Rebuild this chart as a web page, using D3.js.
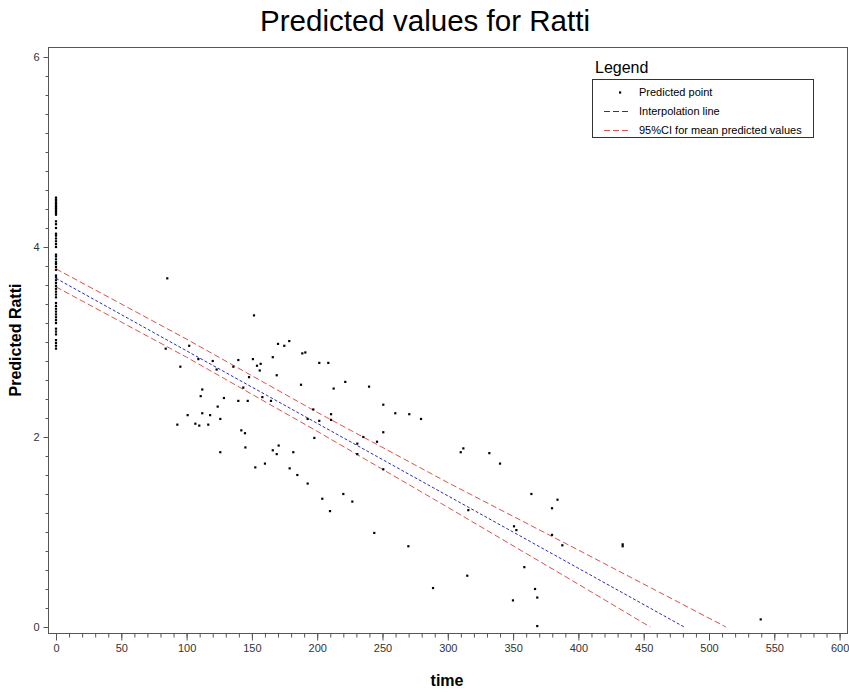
<!DOCTYPE html>
<html>
<head>
<meta charset="utf-8">
<script src="https://cdn.jsdelivr.net/npm/d3@7"></script>
<style>
  body { margin: 0; background: #fff; }
  text { font-family: "Liberation Sans", Arial, sans-serif; }
</style>
</head>
<body>
<script>
// Predicted values for Ratti - scatter with fitted line and 95% CI

// predicted points (time > 0)
var pointTime = [85.2, 151.6, 170, 102, 84, 109, 120, 139.6, 150.8, 156.7, 153.9, 135.8, 166, 95.2, 123, 156, 169,
  147.8, 143.4, 112, 110.8, 128.6, 139.6, 146.8, 158, 164.6, 123.8, 100.8, 112, 118, 125.8, 92.9, 106.7, 109.7,
  116.6, 141.9, 144.7, 170.5, 145, 125.8, 166, 169, 178.6, 174.8, 188.6, 190.9, 201.6, 208.5, 187.6, 221.5, 239.7,
  212.6, 197, 250.6, 259.8, 270.5, 279.5, 210.6, 192.7, 201.6, 210.6, 181.7, 197.8, 235.3, 230.7, 245.8, 250.6,
  230.7, 250.6, 152.6, 160, 178.9, 184.8, 192.7, 203.9, 220, 226.9, 209.8, 243.7, 269.8, 288.7, 314.9, 315.7,
  350.7, 352.5, 379.8, 379.8, 384, 358.6, 349.9, 366.8, 368.5, 368.5, 309.9, 311.9, 331.8, 340, 364, 387.7,
  433.9, 433.9, 539.6];
var pointRatti = [3.67, 3.28, 2.98, 2.96, 2.93, 2.82, 2.80, 2.81, 2.82, 2.77, 2.75, 2.74, 2.84, 2.74, 2.71, 2.70, 2.65,
  2.63, 2.52, 2.50, 2.43, 2.41, 2.38, 2.38, 2.42, 2.38, 2.32, 2.23, 2.25, 2.23, 2.19, 2.13, 2.14, 2.12,
  2.13, 2.07, 2.04, 1.91, 1.89, 1.84, 1.86, 1.82, 3.01, 2.96, 2.88, 2.89, 2.78, 2.78, 2.55, 2.58, 2.53,
  2.51, 2.29, 2.34, 2.25, 2.24, 2.19, 2.24, 2.19, 2.17, 2.18, 1.84, 1.99, 2.00, 1.93, 1.95, 2.05,
  1.82, 1.66, 1.68, 1.72, 1.67, 1.60, 1.51, 1.35, 1.40, 1.32, 1.22, 0.99, 0.85, 0.41, 0.54, 1.23,
  1.06, 1.02, 1.25, 0.97, 1.34, 0.63, 0.28, 0.40, 0.31, 0.01, 1.84, 1.88, 1.83, 1.72, 1.40, 0.86,
  0.87, 0.85, 0.08];

// predicted points at time = 0
var zeroTimeRatti = [4.52, 4.50, 4.49, 4.47, 4.46, 4.44, 4.43, 4.41, 4.40, 4.38, 4.36, 4.34, 4.27, 4.24,
  4.20, 4.14, 4.12, 4.09, 4.06, 4.03, 4.00, 3.92, 3.90, 3.87, 3.84, 3.82, 3.79, 3.76,
  3.70, 3.68, 3.65, 3.62, 3.59, 3.56, 3.53, 3.50, 3.47, 3.41, 3.38, 3.35, 3.32, 3.29, 3.26, 3.23, 3.20,
  3.14, 3.11, 3.08, 3.02, 2.99, 2.96, 2.93];

// interpolation line and CI bounds
var fitTime = [0, 481];
var fitRatti = [3.67, 0];
var upperTime = [0, 100, 200, 300, 400, 513];
var upperRatti = [3.77, 3.03, 2.26, 1.52, 0.81, 0];
var lowerTime = [0, 100, 200, 300, 400, 455];
var lowerRatti = [3.58, 2.84, 2.06, 1.26, 0.45, 0];

// ticks
var xTicks = [0, 50, 100, 150, 200, 250, 300, 350, 400, 450, 500, 550, 600];
var yTicks = [0, 2, 4, 6];

var width = 849, height = 692;
var frame = {left: 48, right: 847, top: 47, bottom: 633};
var red = "#d9534f", blue = "#2a2ac0";

var svg = d3.select("body").append("svg")
  .attr("width", width)
  .attr("height", height);

var x = d3.scaleLinear().domain([0, 600]).range([56, 839.6]);
var y = d3.scaleLinear().domain([0, 6]).range([627, 57]);

// title
svg.append("text")
  .attr("x", 425)
  .attr("y", 31)
  .attr("text-anchor", "middle")
  .attr("textLength", 330)
  .attr("lengthAdjust", "spacingAndGlyphs")
  .style("font-size", "30px")
  .text("Predicted values for Ratti");

// frame
svg.append("rect")
  .attr("x", frame.left + 0.5)
  .attr("y", frame.top + 0.5)
  .attr("width", frame.right - frame.left)
  .attr("height", frame.bottom - frame.top)
  .attr("fill", "none")
  .attr("stroke", "#555");

// x axis, minor then major
var xMinor = d3.range(0, 601, 10);
svg.append("g")
  .attr("class", "x minor")
  .attr("transform", "translate(0," + (frame.bottom + 0.5) + ")")
  .call(d3.axisBottom(x).tickValues(xMinor).tickSize(4).tickFormat(""));
svg.append("g")
  .attr("class", "x axis")
  .attr("transform", "translate(0," + (frame.bottom + 0.5) + ")")
  .call(d3.axisBottom(x).tickValues(xTicks).tickSize(7).tickPadding(4).tickFormat(d3.format("d")));

// y axis
var yMinor = d3.range(0, 30.5, 1).map(function(d) { return d / 5; });
svg.append("g")
  .attr("class", "y minor")
  .attr("transform", "translate(" + (frame.left + 0.5) + ",0)")
  .call(d3.axisLeft(y).tickValues(yMinor).tickSize(3).tickFormat(""));
svg.append("g")
  .attr("class", "y axis")
  .attr("transform", "translate(" + (frame.left + 0.5) + ",0)")
  .call(d3.axisLeft(y).tickValues(yTicks).tickSize(5).tickPadding(4).tickFormat(d3.format("d")));

svg.selectAll(".domain").remove();
svg.selectAll(".tick line").attr("stroke", "#555");
svg.selectAll(".tick text")
  .attr("fill", "#333")
  .style("font-size", "11px")
  .style("font-family", "'Liberation Sans', Arial, sans-serif");

// axis titles
svg.append("text")
  .attr("x", 447)
  .attr("y", 686)
  .attr("text-anchor", "middle")
  .style("font-size", "16px")
  .style("font-weight", "bold")
  .text("time");

svg.append("text")
  .attr("transform", "translate(21,340) rotate(-90)")
  .attr("text-anchor", "middle")
  .style("font-size", "16px")
  .style("font-weight", "bold")
  .text("Predicted Ratti");

// lines
var line = d3.line()
  .x(function(d) { return x(d[0]); })
  .y(function(d) { return y(d[1]); });

function pairs(a, b) {
  return a.map(function(d, i) { return [d, b[i]]; });
}

svg.append("path")
  .datum(pairs(upperTime, upperRatti))
  .attr("d", line)
  .attr("fill", "none")
  .attr("stroke", red)
  .attr("stroke-dasharray", "6,3");

svg.append("path")
  .datum(pairs(lowerTime, lowerRatti))
  .attr("d", line)
  .attr("fill", "none")
  .attr("stroke", red)
  .attr("stroke-dasharray", "6,3");

svg.append("path")
  .datum(pairs(fitTime, fitRatti))
  .attr("d", line)
  .attr("fill", "none")
  .attr("stroke", blue)
  .attr("stroke-dasharray", "3,2");

// points
var points = pairs(pointTime, pointRatti)
  .concat(zeroTimeRatti.map(function(d) { return [0, d]; }));

svg.selectAll("rect.pt")
  .data(points)
  .enter()
  .append("rect")
  .attr("class", "pt")
  .attr("x", function(d) { return x(d[0]) - 1.1; })
  .attr("y", function(d) { return y(d[1]) - 1.1; })
  .attr("width", 2.2)
  .attr("height", 2.2)
  .attr("fill", "#000");

// legend
var legend = svg.append("g");

legend.append("text")
  .attr("x", 595)
  .attr("y", 73)
  .style("font-size", "16px")
  .text("Legend");

legend.append("rect")
  .attr("x", 592.5)
  .attr("y", 79.5)
  .attr("width", 221)
  .attr("height", 58)
  .attr("fill", "#fff")
  .attr("stroke", "#333");

var legendLabels = ["Predicted point", "Interpolation line", "95%CI for mean predicted values"];
var legendY = [92.5, 111.5, 130.5];

legend.append("rect")
  .attr("x", 619)
  .attr("y", legendY[0] - 1.1)
  .attr("width", 2.2)
  .attr("height", 2.2)
  .attr("fill", "#000");

legend.append("line")
  .attr("x1", 604).attr("x2", 631)
  .attr("y1", legendY[1]).attr("y2", legendY[1])
  .attr("stroke", blue)
  .attr("stroke-dasharray", "6,3");

legend.append("line")
  .attr("x1", 604).attr("x2", 631)
  .attr("y1", legendY[2]).attr("y2", legendY[2])
  .attr("stroke", red)
  .attr("stroke-dasharray", "6,3");

legend.selectAll("text.lab")
  .data(legendLabels)
  .enter()
  .append("text")
  .attr("class", "lab")
  .attr("x", 639)
  .attr("y", function(d, i) { return legendY[i]; })
  .attr("dy", "0.35em")
  .style("font-size", "11px")
  .text(function(d) { return d; });
</script>
</body>
</html>
